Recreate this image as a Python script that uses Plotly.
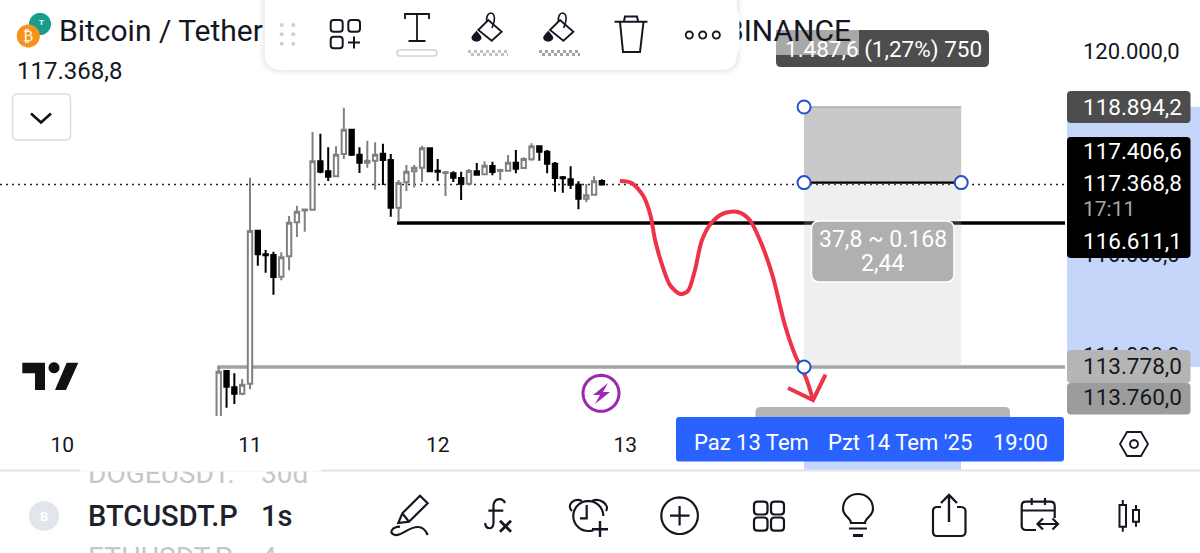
import math, re
import pandas as pd
import plotly.graph_objects as go

# ---------- data ----------
opens = [112341,113699,113378,113252,113449,116460,115995,115982,115555,115956,116625,116857,116873,117826,117629,117530,117969,118448,117956,117798,117837,117975,117851,116912,117412,117629,117700,118081,
         117641,117595,117589,117497,117385,117629,117570,117733,117635,117641,117798,117694,117865,118121,118015,117778,117511,117471,117365,117090,117168,117438]
highs = [113778,113712,113653,113541,117503,116480,116080,116047,116035,116749,116952,116887,118402,118369,118101,118121,118880,118461,118101,118231,118200,118172,117969,117458,117753,117753,118133,118087,
         117871,117635,117629,117621,117674,117792,117826,117818,117680,117950,118048,117904,118180,118127,118048,117812,117536,117727,117432,117379,117530,117471]
lows = [112144,112976,113049,113220,113339,115771,115633,115200,115484,115680,116336,116440,116873,117589,117438,117520,117871,117930,117595,117700,117267,117359,116735,116637,117241,117310,117418,117625,
        117438,117143,117418,117064,117385,117550,117570,117550,117458,117641,117589,117694,117837,117837,117589,117227,117208,117280,116881,117019,117168,117365]
closes = [113685,113390,113252,113429,116454,115995,115976,115549,115936,116617,116834,116877,117826,117621,117523,117956,118448,117956,117798,117837,117956,117851,116912,117399,117621,117700,118081,117629,
          117621,117609,117503,117385,117635,117562,117739,117615,117654,117798,117680,117871,118121,118015,117778,117497,117491,117365,117090,117156,117432,117369]
day_ticks = ["2025-07-10", "2025-07-11", "2025-07-12", "2025-07-13"]
day_labels = ["10", "11", "12", "13"]
price_ticks = [120000, 116000, 114000]
price_labels = ["120.000,0", "116.000,0", "114.000,0"]

last_price = 117368.8
support_price = 116611.1
take_price = 118894.2
entry_price = 117406.6
stop_price = 113778.0

# hand-drawn red path: hours after 11 Jul 00:00, price
red_hours = [47.3,48.8,50.3,51.2,51.8,52.7,53.7,55.0,56.0,56.9,57.8,59.1,60.7,62.4,63.9,65.2,66.8,68.4,69.7,71.1,72.0]
red_prices = [117438,117399,117143,116769,116277,115785,115391,115214,115273,115686,116277,116631,116808,116828,116670,116277,115588,114604,114014,113561,113128]
arrow_hours = [68.8,72.0,73.6]
arrow_prices = [113364,113128,113627]

box_hours = [70.85, 90.95]
support_start_hour = 18.8
stop_start_hour = -4.2
axis_hours = [-31.97, 104.22]

# ---------- helpers ----------
W_PLOT, H_PLOT = 1065.0, 416.0
base = pd.Timestamp("2025-07-11 00:00")
def t(h):
    return (base + pd.Timedelta(hours=h)).strftime("%Y-%m-%d %H:%M:%S")
def px(x): return x / W_PLOT
def py(y): return 1 - y / H_PLOT
def path(s):
    toks = re.findall(r"[MLCQZ]|-?\d+\.?\d*", s)
    out, num = [], []
    for k in toks:
        if k in "MLCQZ":
            out.append(k)
        else:
            num.append(float(k))
            if len(num) == 2:
                out.append(f"{px(num[0]):.5f},{py(num[1]):.5f}")
                num = []
    return " ".join(out)
shapes, notes = [], []
def sh(s, fill=None, line=None, w=0, dash=None, layer="above"):
    shapes.append(dict(type="path", xref="paper", yref="paper", path=path(s), layer=layer,
                       fillcolor=fill or "rgba(0,0,0,0)",
                       line=dict(color=line or "rgba(0,0,0,0)", width=w, dash=dash or "solid")))
def rr(x0, y0, x1, y1, r=0):
    if r == 0:
        return f"M{x0} {y0} L{x1} {y0} L{x1} {y1} L{x0} {y1} Z"
    return (f"M{x0+r} {y0} L{x1-r} {y0} Q{x1} {y0} {x1} {y0+r} L{x1} {y1-r} Q{x1} {y1} {x1-r} {y1} "
            f"L{x0+r} {y1} Q{x0} {y1} {x0} {y1-r} L{x0} {y0+r} Q{x0} {y0} {x0+r} {y0} Z")
def arc(cx, cy, r, a0=0, a1=360, closed=False, ry=None, n=48):
    ry = ry or r
    pts = []
    for i in range(n + 1):
        a = math.radians(a0 + (a1 - a0) * i / n)
        pts.append(f"{cx + r*math.cos(a):.2f} {cy + ry*math.sin(a):.2f}")
    return "M" + " L".join(pts) + (" Z" if closed else "")
def txt(x, y, s, size=22, color="#131722", anchor="left", weight=None, family="Roboto"):
    f = dict(family=family, size=size, color=color)
    if weight: f["weight"] = weight
    notes.append(dict(x=px(x), y=py(y), xref="paper", yref="paper", text=s, showarrow=False,
                      xanchor=anchor, yanchor="middle", font=f, borderpad=0))
def cover(x0, y0, x1, y1):
    notes.append(dict(x=px(x0), y=py(y0), xref="paper", yref="paper", text=" ", showarrow=False,
                      xanchor="left", yanchor="top", width=x1-x0, height=y1-y0, bgcolor="white",
                      borderpad=0, font=dict(size=1)))

INK = "#131722"
# ---------- price-scale range band and trade box ----------
sh(rr(1067, 107, 1200, 367), fill="#c6d6fb", layer="below")
sh(rr(804, 461, 961, 470), fill="#c6d6fb")
sh(rr(0, 469.5, 1200, 471.5), fill="#e2e2ea")

data_shapes = [
    dict(type="line", xref="paper", yref="y", x0=0, x1=1, y0=last_price, y1=last_price, layer="below",
         line=dict(color="#222", width=1.6, dash="2px,4px")),
    dict(type="line", xref="x", yref="y", x0=t(support_start_hour), x1=t(axis_hours[1]), y0=support_price, y1=support_price,
         layer="below", line=dict(color="#000", width=3.5)),
    dict(type="line", xref="x", yref="y", x0=t(stop_start_hour), x1=t(axis_hours[1]), y0=stop_price, y1=stop_price,
         layer="below", line=dict(color="#a3a3a3", width=3.5)),
    dict(type="rect", xref="x", yref="y", x0=t(box_hours[0]), x1=t(box_hours[1]), y0=entry_price, y1=take_price, layer="below",
         fillcolor="rgba(140,140,140,0.47)", line=dict(width=0)),
    dict(type="line", xref="x", yref="y", x0=t(box_hours[0]), x1=t(box_hours[1]), y0=take_price, y1=take_price, layer="below",
         line=dict(color="#aaaaaa", width=1.5)),
    dict(type="rect", xref="x", yref="y", x0=t(box_hours[0]), x1=t(box_hours[1]), y0=stop_price, y1=entry_price, layer="below",
         fillcolor="rgba(190,190,190,0.24)", line=dict(width=0)),
    dict(type="line", xref="x", yref="y", x0=t(box_hours[0]), x1=t(box_hours[1]), y0=entry_price, y1=entry_price, layer="below",
         line=dict(color="#000", width=2.2)),
]

# ---------- top-left legend ----------
sh(arc(40, 24, 11, closed=True), fill="#1a9c8d")
sh(arc(28.3, 36, 11.5, closed=True), fill="#f7931a")
txt(28.3, 36, "₿", 15, "white", "center", family="DejaVu Sans")
txt(41, 22, "T", 8, "white", "center", weight=700)
txt(58, 31, "Bitcoin / Tether", 30)
txt(852, 31, "BINANCE", 30, anchor="right")
txt(15.5, 71, "117.368,8", 24)
sh(rr(12.5, 94, 70.5, 140, 5), fill="white", line="#dcdcdc", w=1.5)
sh("M31 113.5 L41 122.5 L51 113.5", line="#111", w=2.6)

# ---------- distance label behind the toolbar ----------
sh(rr(776, 30, 989, 67, 5), fill="#4d4d4d")
sh(rr(776, 30, 859, 55), fill="#a8a8a8")
txt(883, 49, "1.487,6 (1,27%) 750", 22.5, "white", "center")

# ---------- toolbar ----------
for g, a in [(6, .012), (4.5, .015), (3, .02), (1.5, .025)]:
    sh(rr(265-g, -20, 737+g, 70+g, 16+g), fill=f"rgba(0,0,0,{a})")
sh(rr(265, -20, 737, 70, 16), fill="white")
for cx in (281.7, 293.3):
    for cy in (25, 34.3, 43.7):
        sh(arc(cx, cy, 2, closed=True, n=12), fill="#cfcfcf")
for b in [(330.7,20,342.7,31.7),(348.3,20,360,31.7),(330.7,36.7,342.7,48.3)]:
    sh(rr(*b, 3), line=INK, w=2)
sh("M354 36.5 L354 48.5 M348 42.5 L360 42.5", line=INK, w=2)
sh("M405 19 L405 14 L429 14 L429 19 M417 14 L417 41 M408.5 41 L425.5 41", line=INK, w=1.8)
sh(rr(397, 50, 437, 56, 3), line="#d2d2d2", w=1.6)
for dx, c, b0, b1 in [(0, "#c3c3c3", 468, 508), (71.7, "#a4a4a4", 539, 580)]:
    sh(f"M{478.3+dx} 30 L{488.3+dx} 20 L{501.7+dx} 31.7 L{491.7+dx} 40.7 Z", line=INK, w=1.8)
    sh(f"M{486.7+dx} 22 C{485+dx} 10 {497+dx} 10 {494+dx} 22 L{492+dx} 28", line=INK, w=1.6)
    sh(f"M{476.5+dx} 30.5 C{474+dx} 34 {471.5+dx} 36 {471.5+dx} 37.5 C{471.5+dx} 43 {481.5+dx} 43 {481.5+dx} 37.5 C{481.5+dx} 36 {479+dx} 34 {476.5+dx} 30.5 Z", fill=INK)
    sh(f"M{b0} 51.5 L{b1} 51.5", line=c, w=3, dash="3px,3px")
    sh(f"M{b0+3} 54.5 L{b1} 54.5", line=c, w=3, dash="3px,3px")
sh("M614.5 21.7 L647.5 21.7 M624 21 L625 16.5 L637 16.5 L638 21 M620 22 L623 52 L640 52 L643.5 22", line=INK, w=2)
for cx in (689.3, 702.7, 716.3):
    sh(arc(cx, 35, 3.6, closed=True, n=16), line=INK, w=1.8)
cover(724, 12, 738, 50)

# ---------- TradingView logo and lightning ----------
sh("M22.3 362.7 L45 362.7 L45 390 L35 390 L35 373.3 L22.3 373.3 Z", fill="#111")
sh(arc(54, 367.7, 5.5, closed=True, n=20), fill="#111")
sh("M66.7 362.7 L78.3 362.7 L66 390 L55 390 Z", fill="#111")
sh(arc(601, 393.3, 18, closed=True), fill="white", line="#9c27b0", w=3)
sh("M608 383 L593 395 L600 395 L595 404 L610 392 L603 392 Z", fill="#9c27b0")

# ---------- bottom lip of hidden label, time bar ----------
sh(rr(755.5, 407, 1010, 425, 5), fill="#b5b5b5")
sh(rr(676, 417, 1064, 461.5, 3), fill="#2962ff")
txt(693, 442, "Paz 13 Tem", 22, "white")
txt(826.5, 442, "Pzt 14 Tem '25", 22, "white")
txt(991.5, 442, "19:00", 22, "white")
sh("M1120 444 L1127 432 L1141 432 L1148 444 L1141 456 L1127 456 Z", line=INK, w=1.8)
sh(arc(1134, 444, 4, closed=True, n=16), line=INK, w=1.8)

# ---------- trade ratio label ----------
sh(rr(811.5, 221, 954, 282, 8), fill="#b0b0b0", line="white", w=1.5)
txt(882.5, 240, "37,8 ~ 0.168", 23, "white", "center")
txt(882.5, 263, "2,44", 23, "white", "center")

# ---------- price labels ----------
sh(rr(1067, 91, 1190.5, 123, 4), fill="#4d4d4d")
txt(1081.5, 107, "118.894,2", 22.5, "white")
sh(rr(1067, 137, 1190.5, 258, 4), fill="#000000")
txt(1081.5, 151, "117.406,6", 22.5, "white")
txt(1081.5, 183, "117.368,8", 22.5, "white")
txt(1081.5, 209, "17:11", 21, "#a8a8a8")
txt(1081.5, 241, "116.611,1", 22.5, "white")
sh(rr(1067, 350, 1190.5, 383, 4), fill="#b5b5b5")
txt(1081.5, 366, "113.778,0", 22.5)
sh(rr(1067, 383, 1190.5, 414.5, 4), fill="#9c9c9c")
txt(1081.5, 397, "113.760,0", 22.5)

# ---------- bottom bar ----------
txt(87, 473, "DOGEUSDT.", 28, "#c6c6cb")
txt(260, 473, "30d", 28, "#c6c6cb")
cover(80, 452, 320, 470)
sh(arc(44, 516, 15, closed=True), fill="#e3e5ec")
txt(44, 516, "B", 13, "white", "center", weight=700)
txt(86.5, 516, "BTCUSDT.P", 29, "#1e222d", weight=500)
txt(259.5, 516, "1s", 29, "#1e222d", weight=500)
txt(87, 557, "ETHUSDT.P", 28, "#c6c6cb")
txt(260, 557, "4", 28, "#c6c6cb")

# pencil
sh("M398.3 523 L402.3 513.3 L420 495.7 L427.7 503.3 L409 521.7 Z M402.3 513.3 L409 521.7", line=INK, w=2.2)
sh("M400 526.7 C392 527 388 533 395 535 C402 536 408 527 418 527 C423 527 426 531 427.7 535", line=INK, w=2.2)
# fx
sh("M505 503 C503 498 495 497 493.5 505 L493.5 523 C493 530 486 530 485 523 M488.3 510.7 L503.3 510.7", line=INK, w=2.2)
sh("M500 520.7 L511 531.7 M511 520.7 L500 531.7", line=INK, w=2.8)
# alarm
sh(arc(588.3, 516, 15, 70, 360), line=INK, w=2.2)
sh("M586.7 505 L586.7 518.3 L580 518.3", line=INK, w=2.2)
sh("M572 511 C566 505 574 497 582 501 M592 501 C600 497 610 505 606 511", line=INK, w=2.2)
sh("M600 521 L600 537 M592 529.3 L608 529.3", line=INK, w=2.4)
# plus
sh(arc(679.6, 515.7, 18.3), line=INK, w=2.2)
sh("M679.6 506 L679.6 525.5 M670 515.7 L689.5 515.7", line=INK, w=2.2)
# squares
for b in [(754,501.7,767.5,514.5),(771,501.7,784,514.5),(754,517.5,767.5,530.7),(771,517.5,784,530.7)]:
    sh(rr(*b, 3.5), line=INK, w=2.2)
# bulb
sh("M851 523 C851 518 843 516 843 509 C843 489 873 489 873 509 C873 516 865 518 865 523 Z", line=INK, w=2.2)
sh("M849 528.5 L867 528.5", line=INK, w=2)
sh("M853 535.5 L863 535.5", line=INK, w=3)
# share
sh("M941 507 L937 507 C934 507 933 509 933 511 L933 532 C933 535 935 536 937 536 L961 536 C964 536 965.5 534 965.5 532 L965.5 511 C965.5 509 964 507 961 507 L957 507", line=INK, w=2.2)
sh("M949 522 L949 495 M941 503 L949 495 L957 503", line=INK, w=2.4)
# calendar
sh("M1036 530 L1026 530 C1023 530 1021.7 528 1021.7 526 L1021.7 506 C1021.7 503 1023 501.7 1026 501.7 L1050 501.7 C1053 501.7 1054.7 503 1054.7 506 L1054.7 518", line=INK, w=2.2)
sh("M1021.7 510.5 L1054.7 510.5 M1031.7 498 L1031.7 505 M1045 498 L1045 505", line=INK, w=2.2)
sh("M1037.5 524 L1058 524 M1043 518.5 L1037.5 524 L1043 529.5 M1052.5 518.5 L1058 524 L1052.5 529.5", line=INK, w=2.2)
# candles
sh(rr(1119.5, 505, 1126, 526.7), line=INK, w=2)
sh("M1122.8 500 L1122.8 505 M1122.8 526.7 L1122.8 531.7", line=INK, w=2)
sh(rr(1133, 510, 1139, 521.7), line=INK, w=2)
sh("M1136 505 L1136 510 M1136 521.7 L1136 526.7", line=INK, w=2)

# ---------- figure ----------
times = [t(h) for h in range(-4, -4 + len(opens))]
fig = go.Figure()
fig.add_trace(go.Candlestick(
    x=times, open=opens, high=highs, low=lows, close=closes, whiskerwidth=0,
    increasing=dict(line=dict(color="#808080", width=2), fillcolor="#ffffff"),
    decreasing=dict(line=dict(color="#000000", width=2), fillcolor="#000000"),
    showlegend=False, hoverinfo="skip"))
fig.add_trace(go.Scatter(x=[t(h) for h in red_hours], y=red_prices, mode="lines",
                         line=dict(color="#ee3248", width=4, shape="spline", smoothing=0.8),
                         showlegend=False, hoverinfo="skip"))
fig.add_trace(go.Scatter(x=[t(h) for h in arrow_hours], y=arrow_prices, mode="lines",
                         line=dict(color="#ee3248", width=4), showlegend=False, hoverinfo="skip"))
fig.add_trace(go.Scatter(x=[t(box_hours[0]), t(box_hours[0]), t(box_hours[1]), t(box_hours[0])],
                         y=[take_price, entry_price, entry_price, stop_price], mode="markers",
                         marker=dict(size=13, color="white", line=dict(color="#2352c8", width=2)),
                         showlegend=False, hoverinfo="skip"))
fig.update_layout(
    width=1200, height=553, margin=dict(l=0, r=135, t=0, b=137),
    paper_bgcolor="white", plot_bgcolor="rgba(0,0,0,0)", boxgap=0.2, showlegend=False,
    xaxis=dict(type="date", range=[t(axis_hours[0]), t(axis_hours[1])], rangeslider=dict(visible=False),
               tickmode="array", tickvals=day_ticks, ticktext=day_labels, showgrid=False, zeroline=False,
               ticks="", ticklabelstandoff=14, showline=False, tickfont=dict(family="Roboto", size=21, color=INK)),
    yaxis=dict(side="right", range=[112813, 120999.9], tickmode="array", tickvals=price_ticks, ticktext=price_labels,
               showgrid=False, zeroline=False, ticks="", ticklabelstandoff=17, showline=False,
               tickfont=dict(family="Roboto", size=22, color=INK)),
    shapes=data_shapes + shapes, annotations=notes)
fig.write_html("out.html", config={"displayModeBar": False},
               post_script="document.body.style.margin='0';document.body.style.overflow='hidden';")
